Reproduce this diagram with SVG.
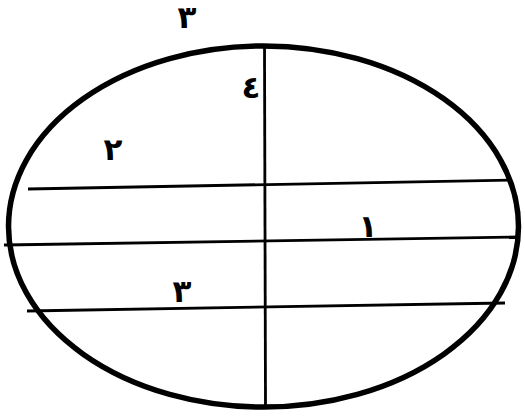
<svg xmlns="http://www.w3.org/2000/svg" width="525" height="416" viewBox="0 0 525 416">
<style>
.ln{stroke:#000;stroke-width:2.8;fill:none}
.t{font-family:"DejaVu Sans",sans-serif;font-size:31px;font-weight:bold;fill:#000;text-anchor:middle}
</style>
<rect width="525" height="416" fill="#fff"/>
<g id="ellipse"><ellipse cx="263.5" cy="226.5" rx="255" ry="180.5" fill="none" stroke="#000" stroke-width="5.5"/></g>
<g id="connectors">
<line class="ln" x1="264.5" y1="47" x2="265.5" y2="406"/>
<line class="ln" x1="28" y1="189" x2="512" y2="180"/>
<line class="ln" x1="4" y1="245" x2="519" y2="237"/>
<line class="ln" x1="27" y1="311" x2="505" y2="303"/>
</g>
<g id="labels">
<text class="t" x="187" y="28">٣</text>
<text class="t" x="251" y="98">٤</text>
<text class="t" x="113" y="160">٢</text>
<text class="t" x="368" y="237">١</text>
<text class="t" x="182" y="302">٣</text>
</g>
</svg>
